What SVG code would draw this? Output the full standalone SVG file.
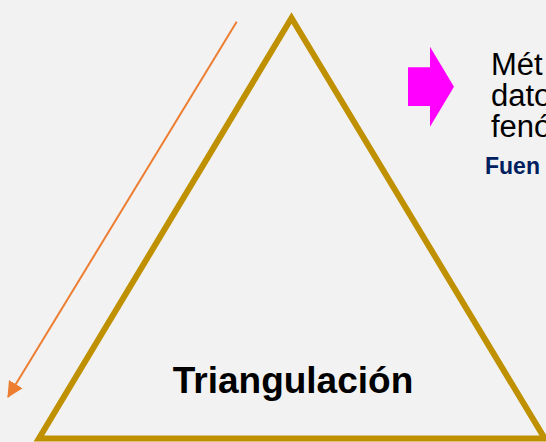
<svg xmlns="http://www.w3.org/2000/svg" width="546" height="442" viewBox="0 0 546 442">
<style>
.t{font-family:"Liberation Sans",Arial,sans-serif}
</style>
<defs>
<marker id="ah" markerUnits="userSpaceOnUse" markerWidth="18" markerHeight="18" refX="15" refY="8" orient="auto">
<path d="M0,0 L16,8 L0,16 Z" fill="#ed7d31"/>
</marker>
</defs>
<rect width="546" height="442" fill="#f2f2f2"/>
<g id="triangle">
<polygon points="291.5,18 38.9,438.5 544.7,438.5" fill="none" stroke="#bf9000" stroke-width="6"/>
<text class="t" x="293" y="393" font-size="37" font-weight="bold" text-anchor="middle" fill="#000">Triangulación</text>
</g>
<g id="connectors">
<line x1="236.7" y1="21.7" x2="8" y2="397" stroke="#ed7d31" stroke-width="2" marker-end="url(#ah)"/>
</g>
<g id="pointer">
<polygon points="408,67.3 430,67.3 430,46.7 454,86.7 430,126.7 430,106 408,106" fill="#ff00ff"/>
</g>
<g id="note">
<text class="t" font-size="31" fill="#000"><tspan x="491" y="75">Mét</tspan><tspan x="491" y="106">dato</tspan><tspan x="491" y="137">fenó</tspan></text>
<text class="t" x="485" y="174" font-size="23" font-weight="bold" fill="#002060">Fuen</text>
</g>
</svg>
